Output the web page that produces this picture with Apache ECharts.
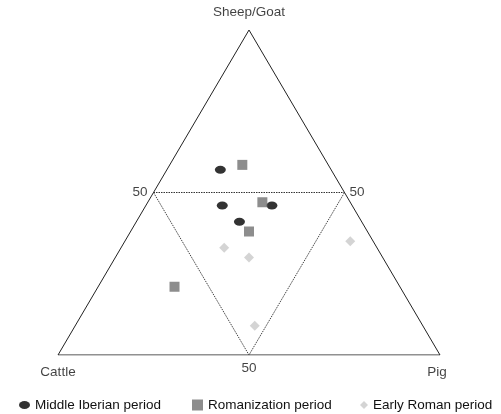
<!DOCTYPE html>
<html>
<head>
<meta charset="utf-8">
<script src="https://cdn.jsdelivr.net/npm/echarts@6/dist/echarts.min.js"></script>
<style>html,body{margin:0;padding:0;background:#fff}#c{width:501px;height:414px}</style>
</head>
<body>
<div id="c"></div>
<script>
// Ternary components (percent): Cattle, Pig, Sheep/Goat
const vertexNames = ['Cattle', 'Pig', 'Sheep/Goat'];
const tickLabels = ['50', '50', '50'];
const seriesNames = ['Middle Iberian period', 'Romanization period', 'Early Roman period'];

const middleIberianCattle = [29, 34, 21, 32];
const middleIberianPig    = [14, 20, 33, 27];
const middleIberianSG     = [57, 46, 46, 41];

const romanizationCattle = [22.5, 23, 31, 59];
const romanizationPig    = [19, 30, 31, 20];
const romanizationSG     = [58.5, 47, 38, 21];

const earlyRomanCattle = [40, 35, 44, 6];
const earlyRomanPig    = [27, 35, 47, 59];
const earlyRomanSG     = [33, 30, 9, 35];

function tern(cattle, pig, sg) {
  const s = cattle + pig + sg;
  const b = pig / s, c = sg / s;
  return [b + c / 2, c];
}
function toXY(ca, pi, sg) { return ca.map((v, i) => tern(v, pi[i], sg[i])); }

const outer = [tern(100,0,0), tern(0,100,0), tern(0,0,100), tern(100,0,0)];
const innerTop = [tern(50,0,50), tern(0,50,50)];
const innerSides = [tern(50,0,50), tern(50,50,0), tern(0,50,50)];

const font = 'Liberation Sans, Arial, sans-serif';
const ellipse = 'path://M0,4A5.5,4 0 1,0 11,4A5.5,4 0 1,0 0,4Z';

const labelData = [
  { value: tern(100,0,0), label: { formatter: vertexNames[0], position: 'bottom', distance: 10 } },
  { value: tern(0,100,0), label: { formatter: vertexNames[1], position: 'bottom', distance: 10, offset: [-3, 0] } },
  { value: tern(0,0,100), label: { formatter: vertexNames[2], position: 'top', distance: 11 } },
  { value: tern(50,0,50), label: { formatter: tickLabels[0], position: 'left', distance: 6 } },
  { value: tern(0,50,50), label: { formatter: tickLabels[1], position: 'right', distance: 5 } },
  { value: tern(50,50,0), label: { formatter: tickLabels[2], position: 'bottom', distance: 6 } }
];

const chart = echarts.init(document.getElementById('c'), null, { renderer: 'canvas' });
const legendBase = { orient: 'horizontal', itemGap: 0, textStyle: { fontFamily: font, fontSize: 13.5, color: '#111' }, selectedMode: false };
chart.setOption({
  animation: false,
  grid: { left: 58, right: 61, top: 30, bottom: 59 },
  xAxis: { type: 'value', min: 0, max: 1, show: false },
  yAxis: { type: 'value', min: 0, max: 1, show: false },
  legend: [
    Object.assign({}, legendBase, { left: 14, data: [{ name: seriesNames[0], icon: ellipse }], itemWidth: 11, itemHeight: 8, top: 393 }),
    Object.assign({}, legendBase, { left: 187, data: [{ name: seriesNames[1], icon: 'rect' }], itemWidth: 11, itemHeight: 11, top: 393 }),
    Object.assign({}, legendBase, { left: 355, data: [{ name: seriesNames[2], icon: 'diamond' }], itemWidth: 8, itemHeight: 8, top: 393 })
  ],
  series: [
    { type: 'line', data: outer, symbol: 'none', silent: true, lineStyle: { color: '#222', width: 1 } },
    { type: 'line', data: innerTop, symbol: 'none', silent: true, lineStyle: { color: '#333', width: 1.2, type: [1.5, 1] } },
    { type: 'line', data: innerSides, symbol: 'none', silent: true, lineStyle: { color: '#444', width: 1, type: [1.5, 1] } },
    { type: 'scatter', data: labelData, symbolSize: 0, silent: true,
      label: { show: true, color: '#111', fontFamily: font, fontSize: 13.5 } },
    { name: seriesNames[0], type: 'scatter', data: toXY(middleIberianCattle, middleIberianPig, middleIberianSG),
      symbol: ellipse, symbolSize: [11, 8], itemStyle: { color: '#000' } },
    { name: seriesNames[1], type: 'scatter', data: toXY(romanizationCattle, romanizationPig, romanizationSG),
      symbol: 'rect', symbolSize: 10, itemStyle: { color: '#707070' } },
    { name: seriesNames[2], type: 'scatter', data: toXY(earlyRomanCattle, earlyRomanPig, earlyRomanSG),
      symbol: 'diamond', symbolSize: 10, itemStyle: { color: '#c9c9c9' } }
  ]
});
</script>
</body>
</html>
